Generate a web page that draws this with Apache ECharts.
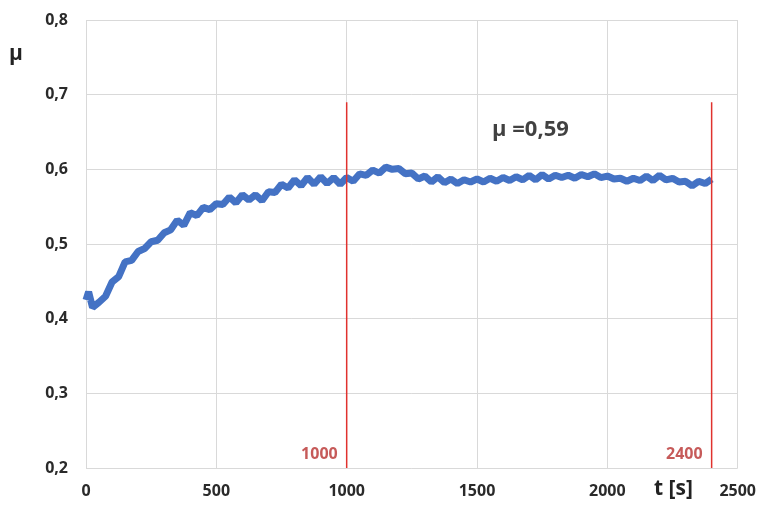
<!DOCTYPE html>
<html><head><meta charset="utf-8">
<script src="https://cdn.jsdelivr.net/npm/echarts@6/dist/echarts.min.js"></script>
<style>html,body{margin:0;padding:0;background:#fff}#c{width:759px;height:510px}</style>
</head><body><div id="c"></div>
<script>
const times = [0,10,25,50,75,100,125,150,175,200,225,250,275,300,325,350,375,400,425,450,475,500,525,550,575,600,625,650,675,700,725,750,775,800,825,850,875,900,925,950,975,1000,1025,1050,1075,1100,1125,1150,1175,1200,1225,1250,1275,1300,1325,1350,1375,1400,1425,1450,1475,1500,1525,1550,1575,1600,1625,1650,1675,1700,1725,1750,1775,1800,1825,1850,1875,1900,1925,1950,1975,2000,2025,2050,2075,2100,2125,2150,2175,2200,2225,2250,2275,2300,2325,2350,2375,2400];
const mu = [0.425,0.436,0.415,0.422,0.430,0.449,0.456,0.476,0.478,0.490,0.494,0.503,0.505,0.515,0.519,0.532,0.525,0.542,0.538,0.549,0.546,0.554,0.553,0.563,0.555,0.566,0.559,0.566,0.558,0.570,0.569,0.580,0.575,0.586,0.578,0.589,0.580,0.590,0.581,0.589,0.580,0.589,0.584,0.594,0.592,0.599,0.595,0.603,0.600,0.601,0.594,0.595,0.587,0.591,0.583,0.590,0.582,0.587,0.581,0.586,0.583,0.587,0.583,0.588,0.584,0.589,0.585,0.590,0.586,0.592,0.586,0.593,0.587,0.592,0.589,0.592,0.588,0.593,0.590,0.594,0.589,0.591,0.587,0.588,0.584,0.588,0.585,0.591,0.585,0.592,0.586,0.588,0.583,0.584,0.578,0.584,0.581,0.587];
const markerTimes = [1000, 2400];
const markerTop = 0.69;
const markerLabelY = 0.2175;
const xTicks = [0, 500, 1000, 1500, 2000, 2500];
const yTicks = [0.2, 0.3, 0.4, 0.5, 0.6, 0.7, 0.8];
const annotation = 'μ =0,59';
const annotationPos = [1705, 0.653];

const FONT = '"Open Sans"';
const chart = echarts.init(document.getElementById('c'));
const series = [{
  type: 'line', data: times.map((t, i) => [t, mu[i]]), showSymbol: false,
  lineStyle: { color: '#4472C4', width: 7, join: 'bevel' }, z: 3
}];
markerTimes.forEach(t => {
  series.push({ type: 'line', data: [[t, yTicks[0]], [t, markerTop]], showSymbol: false,
    lineStyle: { color: '#E0322E', width: 1.5 }, z: 4, silent: true });
});
series.push({ type: 'scatter', symbolSize: 0, data: markerTimes.map(t => [t, markerLabelY]), z: 5,
  label: { show: true, position: 'left', distance: 9, formatter: p => String(p.value[0]),
    color: '#B8312F', fontFamily: FONT, fontWeight: 'bold', fontSize: 16 } });
series.push({ type: 'scatter', symbolSize: 0, data: [annotationPos], z: 5,
  label: { show: true, position: 'inside', formatter: annotation,
    color: '#111', fontFamily: FONT, fontWeight: 'bold', fontSize: 22 } });

chart.setOption({
  animation: false,
  grid: { left: 86, right: 21, top: 20, bottom: 42 },
  xAxis: { type: 'value', min: xTicks[0], max: xTicks[xTicks.length-1], interval: 500,
    axisLine: { show: false }, axisTick: { show: false },
    splitLine: { show: true, lineStyle: { color: '#D9D9D9', width: 1 } },
    axisLabel: { margin: 15, color: '#2a2a2a', fontFamily: FONT, fontWeight: 'bold', fontSize: 16,
      formatter: v => String(v) } },
  yAxis: { type: 'value', min: yTicks[0], max: yTicks[yTicks.length-1], interval: 0.1,
    axisLine: { show: false }, axisTick: { show: false },
    splitLine: { show: true, lineStyle: { color: '#D9D9D9', width: 1 } },
    axisLabel: { margin: 18, color: '#2a2a2a', fontFamily: FONT, fontWeight: 'bold', fontSize: 16,
      formatter: v => v.toFixed(1).replace('.', ',') } },
  graphic: [
    { type: 'text', left: 9, top: 44, style: { text: 'μ', fill: '#222', font: 'bold 21px ' + FONT } },
    { type: 'text', left: 654, top: 479, style: { text: 't [s]', fill: '#222', font: 'bold 21px ' + FONT } }
  ],
  series
});
</script></body></html>
